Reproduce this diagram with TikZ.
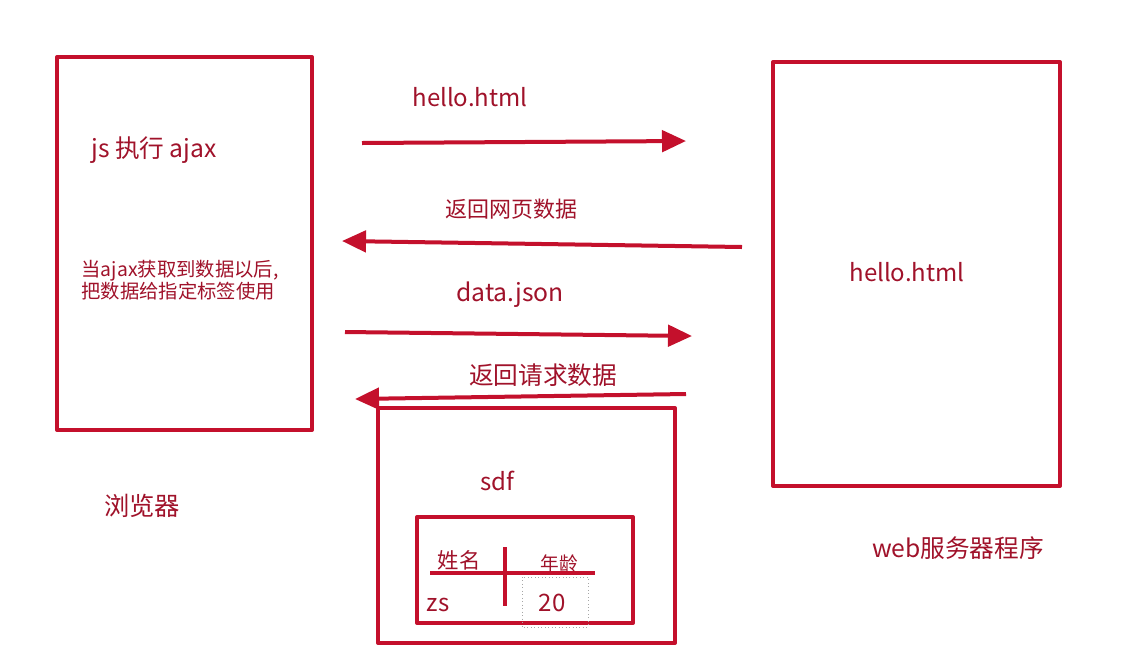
\documentclass[tikz,border=0pt]{standalone}
\usepackage{fontspec}
\setmainfont{Noto Sans CJK SC}
\usetikzlibrary{arrows.meta}
\definecolor{boxred}{RGB}{196,16,44}
\definecolor{txtred}{RGB}{160,18,42}
\tikzset{
 frame/.style={draw=boxred, line width=3pt, line join=round},
 msg/.style={draw=boxred, line width=3pt, -{Triangle[length=18pt,width=16pt]}},
 lbl/.style={text=txtred, inner sep=0pt, font=\fontsize{#1}{#1}\selectfont},
 lbl/.default=15pt
}
\begin{document}
\begin{tikzpicture}[x=0.75pt, y=-0.75pt]
\useasboundingbox[fill=white] (0,0) rectangle (1129,651);
\draw[frame] (57,57) rectangle (312,430);
\draw[frame] (773,62) rectangle (1060,486);
\draw[frame] (378,408) rectangle (675,643);
\draw[frame] (417,517) rectangle (633,623);
\draw[frame] (430,573) -- (595,573);
\draw[frame] (505,547) -- (505,606);
\draw[gray!70, dotted, line width=0.6pt] (522,577) rectangle (588,627);
\node[lbl=18.5pt] (jsrun) at (154,150) {js 执行 ajax};
\node[lbl=14.5pt, align=left] (usage) at (180,280) {当ajax获取到数据以后,\\把数据给指定标签使用};
\node[lbl=19pt] (browser) at (142,506) {浏览器};
\node[lbl=18pt] (page) at (907,272) {hello.html};
\node[lbl=18.5pt] (server) at (958,548) {web服务器程序};
\node[lbl=18pt] (sdf) at (497,481) {sdf};
\node[lbl=16pt] (name) at (459,560) {姓名};
\node[lbl=14pt] (age) at (559,563) {年龄};
\node[lbl=18pt] (zs) at (438,605) {zs};
\node[lbl=18pt] (twenty) at (552,603) {20};
\coordinate (a1) at (362,143); \coordinate (b1) at (686,141);
\coordinate (a2) at (742,247); \coordinate (b2) at (342,241);
\coordinate (a3) at (345,332); \coordinate (b3) at (692,336);
\coordinate (a4) at (686,394); \coordinate (b4) at (355,399);
\draw[msg] (a1) -- (b1);
\draw[msg] (a2) -- (b2);
\draw[msg] (a3) -- (b3);
\draw[msg] (a4) -- (b4);
\node[lbl=18pt] (req1) at (470,97) {hello.html};
\node[lbl=16.5pt] (resp1) at (511,209) {返回网页数据};
\node[lbl=18.5pt] (req2) at (510,295) {data.json};
\node[lbl=18.5pt] (resp2) at (543,375) {返回请求数据};
\end{tikzpicture}
\end{document}
